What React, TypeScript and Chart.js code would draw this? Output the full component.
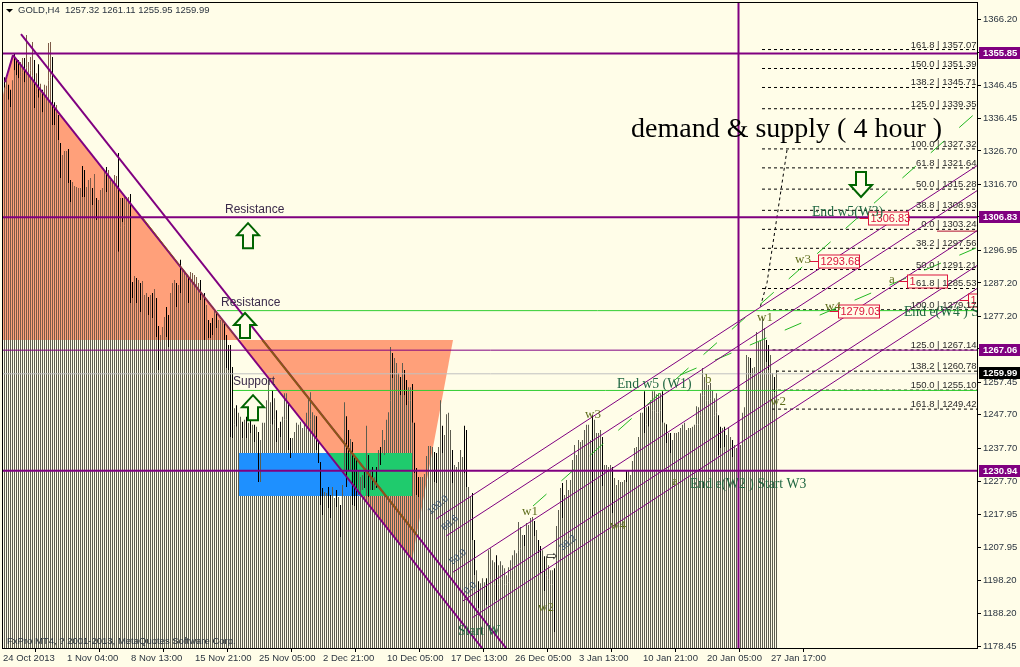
import React, { useEffect, useRef } from "react";
import { Chart, registerables } from "chart.js";

Chart.register(...registerables);

const highs = [
1348.5,1347.6,1346.2,1344.7,1347.6,1355.7,1353.6,1353.6,1353,1354.2,
1354.2,1361.1,1353,1354.5,1359,1353.6,1349.7,1352.4,1346.5,1344.7,
1346.2,1345.9,1358.7,1359,1354.5,1341,1340.2,1337.2,1328.8,1325.2,
1326.4,1326.4,1327,1317.7,1317.1,1315.9,1315.6,1315.3,1315.3,1321.9,
1320.7,1315.6,1317.7,1318.3,1315.3,1319.5,1312.3,1311.7,1314.7,1315.3,
1320.1,1321.6,1320.7,1317.7,1317.7,1319.2,1318.9,1325.8,1312.3,1312.3,
1313.2,1312.6,1312.6,1313.5,1287.2,1289,1288.4,1287.8,1286.9,1287.5,
1283.3,1283.9,1282.7,1283.3,1283.9,1285.1,1282.4,1274,1271.3,1273.7,
1276.7,1279.7,1277.3,1283.9,1286.9,1287.8,1286.9,1286.3,1293.8,1291.4,
1289.9,1289.3,1288.7,1290.2,1289.9,1289.3,1288.7,1286.9,1287.8,1283.3,
1283.9,1280.3,1275.8,1274.9,1276.4,1278.8,1278.2,1275.8,1275.8,1275.8,
1274.9,1271.3,1268.3,1268.3,1261.7,1249.4,1250.3,1248,1246.8,1245.3,
1245.9,1246.8,1245,1248.2,1244.4,1244.4,1243.8,1242.3,1239.9,1245,
1245,1251.8,1257.8,1251.2,1254.8,1252.4,1248.8,1243.5,1245.3,1246.8,
1253.9,1253.9,1251.2,1240.5,1240.5,1242.3,1245,1244.4,1245.3,1243.5,
1245,1248,1252.7,1254.2,1248.2,1247.3,1247,1239.9,1233.3,1225.5,
1224.3,1224,1225.8,1223.4,1225.8,1222.5,1224.9,1222.8,1220.4,1226.4,
1251.2,1247,1242.9,1240.2,1239.3,1235.4,1234.5,1230.9,1228.8,1229.4,
1230.3,1244.1,1235.4,1230.9,1231.8,1228.8,1231.8,1236.9,1237.8,1242.9,
1239.9,1245.9,1248.2,1267.7,1265.9,1264.4,1262.9,1259.9,1258.7,1262.9,
1260.8,1257.8,1255.7,1255.7,1256.6,1245,1231.5,1228.8,1228.8,1228.8,
1229.7,1235.1,1238.1,1238.1,1237.8,1236.3,1236,1237.8,1251.8,1244.1,
1241.4,1247.6,1248,1242.9,1236.9,1232.4,1231.8,1233.3,1236.9,1234.8,
1244.1,1242.9,1225.8,1222.8,1224,1209.9,1200.9,1197.6,1197,1198.5,
1197.3,1198.5,1206.9,1207.5,1203.9,1203.3,1205.4,1202.4,1203.6,1202.4,
1201.5,1199.4,1201.8,1203.9,1205.4,1206.9,1206,1215.3,1213.8,1211.4,
1211.4,1215,1214.4,1216.5,1216.8,1215.6,1212.9,1209.9,1208.1,1206.9,
1205.1,1205.1,1202.4,1200.9,1200.9,1201.5,1214.1,1218.9,1225.5,1227,
1223.4,1227.9,1224.9,1227.9,1233.9,1238.4,1235.4,1239.9,1239.3,1239.9,
1242.9,1244.4,1244.4,1239.9,1247.3,1245.9,1242,1242,1242.9,1240.8,
1232.4,1232.4,1231.8,1232.4,1231.8,1228.5,1226.4,1227.9,1227.3,1227.3,
1227.9,1230.9,1230.9,1229.4,1233.6,1237.5,1237.8,1240.8,1248,1248,
1254.5,1249.7,1250,1251.8,1254.5,1254.5,1253.6,1253.9,1253.9,1254.5,
1245,1244.6,1242,1242,1239.9,1242,1242,1242.3,1243.5,1244.4,
1245,1242.9,1243.5,1243.5,1243.8,1244.4,1250,1249.7,1253.9,1261.4,
1258.7,1256.9,1256.3,1256.9,1254.8,1252.4,1253.9,1247.3,1243.8,1243.5,
1243.8,1241.4,1243.5,1240.8,1239.9,1238.4,1237.5,1236.9,1238.4,1248,
1249.7,1265.3,1264.7,1264.4,1261.4,1261.7,1272.2,1269.2,1269.8,1276.7,
1273.4,1269.8,1268.3,1265.3,1259.9,1258.7,1260.8];

const lows = [
1345.3,1344.7,1341.7,1339.6,1336.3,1350.6,1349.1,1348.2,1348.8,1350,
1347,1351.5,1350,1350.6,1349.1,1339.3,1343.2,1342.3,1343.8,1338,
1339.6,1338.7,1347.6,1348.5,1334.2,1334.2,1335.1,1329.7,1318.3,1322.2,
1320.1,1322.2,1316.8,1311.1,1305.1,1310.2,1310.2,1310.8,1310.2,1312.6,
1312.6,1312.6,1312.9,1313.2,1310.2,1308.7,1305.7,1308.7,1310.2,1309.3,
1314.7,1314.1,1314.1,1315.9,1314.1,1314.7,1313.2,1296.2,1303.6,1305.1,
1304.2,1307.2,1309.3,1280.9,1282.4,1283.3,1280.9,1281.8,1278.2,1281.8,
1280.3,1278.8,1277.3,1278.2,1276.4,1280.3,1270.7,1260.8,1269.2,1269.8,
1269.8,1270.7,1267.7,1275.8,1277.3,1280.3,1279.7,1281.8,1283.9,1284.8,
1283.3,1283.3,1280.9,1284.8,1284.8,1283.3,1283.3,1281.8,1281.8,1280.3,
1269.8,1274.3,1270.4,1270.4,1271.3,1273.4,1273.4,1271.3,1271.3,1270.4,
1269.8,1261.4,1260.8,1240.8,1240.5,1244.4,1243.8,1242.9,1240.5,1240.5,
1241.4,1240.5,1240.5,1242,1241.4,1239.3,1240.8,1227.3,1227.3,1239.9,
1240.8,1242.9,1242,1244.4,1244.4,1245.9,1239.3,1239.9,1240.8,1242.9,
1245.9,1245.9,1236.9,1234.5,1236.9,1238.4,1239.9,1240.5,1241.4,1240.5,
1241.4,1242.9,1243.8,1245.9,1242.3,1241.4,1236.9,1233,1220.4,1217.4,
1220.4,1220.4,1219.5,1216.5,1221.9,1218.9,1219.8,1218.9,1210.8,1220.4,
1230.9,1225.8,1230.9,1230.9,1220.4,1220.1,1218.9,1223.4,1223.4,1224.9,
1225.5,1212,1222.8,1224.9,1224.9,1224.9,1225.5,1230.9,1232.4,1236.9,
1235.4,1238.4,1241.4,1251.8,1258.4,1257.8,1257.8,1254.8,1253.3,1256.3,
1253.3,1250.3,1251.8,1251.8,1245,1230,1223.4,1222.8,1224.9,1225.5,
1225.5,1227.9,1230.9,1232.4,1232.4,1227.3,1227,1230.9,1239.9,1236,
1235.4,1239.9,1239.9,1236.9,1227,1227.9,1227.9,1228.5,1230.9,1230.3,
1230,1225.8,1220.4,1217.4,1209.9,1199.4,1195,1189.6,1192,1193.5,
1192,1190.5,1195,1198,1195,1196.5,1192,1196.5,1198.5,1198,
1196.5,1196.5,1197.3,1198,1200.9,1202.4,1202.4,1206.9,1207.5,1208.4,
1208.1,1208.4,1209.9,1211.4,1212.3,1211.1,1208.4,1206,1200,1200.9,
1194.6,1199.4,1198,1196.5,1196.5,1182.4,1203.9,1212.9,1215.9,1216.5,
1217.4,1220.4,1218.9,1221.9,1224.9,1229.4,1227.9,1230.9,1232.4,1232.4,
1235.4,1236.9,1235.4,1235.4,1217.1,1238.4,1236.9,1235.4,1230.9,1226.1,
1227.9,1227.9,1226.4,1227.9,1218,1223.4,1220.4,1223.4,1223.4,1224.9,
1224.9,1227.3,1226.4,1224.9,1229.4,1232.4,1233.9,1235.4,1239.9,1241.4,
1242,1244.4,1243.8,1245.9,1248.8,1248.8,1248,1248,1248.8,1245,
1239.9,1239,1236.9,1236,1235.4,1238.4,1238.4,1237.8,1239.9,1240.5,
1239.9,1239,1239.9,1239.9,1240.5,1240.8,1244.4,1244.4,1247.3,1253.3,
1253.3,1251.8,1251.8,1252.4,1250.3,1247.3,1248,1235.4,1237.5,1238.4,
1237.8,1236.9,1238.4,1236.9,1234.8,1233.9,1232.4,1221.9,1230.9,1239.9,
1242.9,1256.3,1256.3,1259.3,1256.3,1256.3,1262.3,1261.4,1262.3,1268.3,
1266.8,1263.2,1260.8,1259.3,1254.2,1254.2,1255.4];

const blackWickBars = [0,2,3,5,6,7,10,15,17,19,24,25,27,28,32,33,39,40,44,46,51,57,59,63,64,66,68,72,74,76,77,81,82,86,88,92,98,100,102,103,104,106,110,111,112,113,114,116,119,121,123,125,127,134,136,138,142,143,156,157,158,159,162,163,166,168,171,172,174,175,176,180,182,184,186,188,194,198,200,201,204,205,206,207,215,216,219,224,230,231,234,235,237,241,246,260,265,267,268,270,275,279,294,299,304,311,320,322,329,331,333,357,358,360,364,367,373,381,382,385];

const xTickPositions = [-0.75,31.25,63.25,95.25,127.25,159.25,191.25,223.25,255.25,287.25,319.25,351.25,383.25];
const xTickLabels = ["24 Oct 2013","1 Nov 04:00","8 Nov 13:00","15 Nov 21:00","25 Nov 05:00","2 Dec 21:00","10 Dec 05:00","17 Dec 13:00","26 Dec 05:00","3 Jan 13:00","10 Jan 21:00","20 Jan 05:00","27 Jan 17:00"];
const yTicks = [1366.2,1356.2,1346.45,1336.45,1326.7,1316.7,1306.95,1296.95,1287.2,1277.2,1267.45,1257.45,1247.7,1237.7,1227.7,1217.95,1207.95,1198.2,1188.2,1178.45];

const priceBoxes = [
  { v: 1355.85, bg: "#800080", text: "1355.85" },
  { v: 1306.83, bg: "#800080", text: "1306.83" },
  { v: 1267.06, bg: "#800080", text: "1267.06" },
  { v: 1259.99, bg: "#000000", text: "1259.99" },
  { v: 1230.94, bg: "#800080", text: "1230.94" },
];

const thickLevels = [1355.85, 1306.83, 1230.94];
const thinLevels = [1267.06];
const greenLevels = [
  { v: 1306.5, from: 108 },
  { v: 1278.6, from: 106.25 },
  { v: 1254.7, from: 114.25 },
];
const fibRatios = ["161.8","150.0","138.2","125.0","100.0","61.8","50.0","38.8","0.0","38.2","50.0","61.8","100.0","125.0","138.2","150.0","161.8"];
const fibPrices = [1357.07,1351.39,1345.71,1339.35,1327.32,1321.64,1315.28,1308.93,1303.24,1297.56,1291.21,1285.53,1279.17,1267.14,1260.78,1255.1,1249.42];
const fibStarts = [378.75,378.75,378.75,378.75,378.75,378.75,378.75,378.75,378.75,378.75,378.75,378.75,381.25,384,385.75,383.75,383.75];

const lineA = [[8.25,1361.4],[250.75,1177.6]];
const lineB = [[4.25,1355.1],[238.75,1177.6]];
const ramp = [[0.25,1347],[4.25,1355.1]];
const brownA = [[129,1269.8],[206.25,1211.4]];
const brownB = [[69.25,1306.3],[116.75,1269.8]];
const orange1 = [[-0.75,1343.2],[4.25,1355.1],[116.75,1269.8],[-0.75,1269.8]];
const orange2 = [[116.75,1269.8],[224.25,1269.8],[203.75,1203.9]];
const bluePoly = [[117.25,1236],[161.55,1236],[178.25,1223.1],[117.25,1223.1]];
const greenPoly = [[161.55,1236],[203.75,1236],[203.75,1223.1],[178.25,1223.1]];
const channels = [
  [[215.75,1216.2],[486.75,1322.2]],
  [[220.75,1211.1],[486.75,1314.7]],
  [[224.25,1200.3],[486.75,1302.7]],
  [[229.25,1191.7],[486.75,1292.3]],
  [[233.75,1186.6],[486.75,1285.4]],
];
const greenDashA = [[264.25,1220.1],[486.75,1338.4]];
const greenDashB = [[337.75,1259.3],[486.75,1297.6]];
const dottedCurve = [[391.25,1326.7],[386.75,1308.7],[384.25,1298.8],[381.25,1286.9],[377.75,1279.4]];
const redStub = [[466.25,1302.4],[486.75,1302.4]];

const waveColor = "#5f6e1c";
const endColor = "#1f6640";
const labels = [
  { t: "Resistance", x: 110.25, y: 1309.3, f: "12px 'Liberation Sans'", c: "#3a2a4a" },
  { t: "Resistance", x: 108.25, y: 1281.5, f: "12px 'Liberation Sans'", c: "#3a2a4a" },
  { t: "Support", x: 114.25, y: 1257.8, f: "12px 'Liberation Sans'", c: "#3a2a4a" },
  { t: "End w5 (W1)", x: 306.25, y: 1256.9, f: "13.7px 'Liberation Serif'", c: endColor },
  { t: "End e(W2 ) Start W3", x: 342.75, y: 1227, f: "13.7px 'Liberation Serif'", c: endColor },
  { t: "End w5(W3)", x: 403.75, y: 1308.4, f: "13.7px 'Liberation Serif'", c: endColor },
  { t: "End e(W4 ) Start W5", x: 449.75, y: 1278.5, f: "13.7px 'Liberation Serif'", c: endColor },
  { t: "w1", x: 258.75, y: 1218.9, f: "13px 'Liberation Serif'", c: waveColor },
  { t: "w3", x: 290.25, y: 1248, f: "13px 'Liberation Serif'", c: waveColor },
  { t: "w2", x: 266.75, y: 1190.2, f: "13px 'Liberation Serif'", c: waveColor },
  { t: "w4", x: 302.75, y: 1214.7, f: "13px 'Liberation Serif'", c: waveColor },
  { t: "w3", x: 395.25, y: 1294.4, f: "13px 'Liberation Serif'", c: waveColor },
  { t: "w4", x: 410.25, y: 1280.3, f: "13px 'Liberation Serif'", c: waveColor },
  { t: "w1", x: 376.25, y: 1277, f: "13px 'Liberation Serif'", c: waveColor },
  { t: "w2", x: 382.75, y: 1251.8, f: "13px 'Liberation Serif'", c: waveColor },
  { t: "a", x: 333.75, y: 1227.9, f: "13px 'Liberation Serif'", c: waveColor },
  { t: "b", x: 350.25, y: 1258.4, f: "13px 'Liberation Serif'", c: waveColor },
  { t: "a", x: 442.25, y: 1288.4, f: "13px 'Liberation Serif'", c: waveColor },
  { t: "Start W", x: 226.75, y: 1183, f: "13.7px 'Liberation Serif'", c: endColor },
];
const tiltedLabels = [
  { t: "100.0", x: 216.75, y: 1220.4 },
  { t: "88.6", x: 222.75, y: 1215 },
  { t: "50.0", x: 226.75, y: 1204.8 },
  { t: "0.0", x: 232.75, y: 1195.5 },
  { t: "38.2", x: 281.75, y: 1209 },
];
const boxed = [
  { t: "1306.83", x: 431.75, y: 1306.3, w: 40 },
  { t: "1293.68", x: 406.75, y: 1293.45, w: 41 },
  { t: "1279.03", x: 416.75, y: 1278.6, w: 41 },
  { t: "1", x: 451.25, y: 1287.5, w: 40 },
  { t: "1", x: 481.75, y: 1281.8, w: 40 },
];
const arrows = [
  { x: 121.75, y: 1300.9, dir: "up" },
  { x: 120.25, y: 1274, dir: "up" },
  { x: 124.25, y: 1249.4, dir: "up" },
  { x: 428.25, y: 1316.5, dir: "down" },
];

// The marks above were read against the picture one pixel off the axis ticks.
const readOffset = 0.3;
const cal = (v: number) => v + readOffset;

const pts = (a: number[][], calibrate: boolean) =>
  a.map(([x, y]) => ({ x, y: calibrate ? cal(y) : y }));
const line = (a: number[][], color: string, width: number, dash: number[] = [], order = 10, calibrate = true) => ({
  type: "line",
  data: pts(a, calibrate),
  borderColor: color,
  borderWidth: width,
  borderDash: dash,
  pointRadius: 0,
  fill: false,
  tension: 0,
  order,
});
const poly = (a: number[][], color: string, order: number) => ({
  type: "line",
  data: pts([...a, a[0]], true),
  borderColor: color,
  borderWidth: 0,
  backgroundColor: color,
  pointRadius: 0,
  fill: "shape",
  tension: 0,
  order,
});

const AX_MIN = -0.75;
const AX_MAX = 486.75;
const Y_MIN = 1177.6;
const Y_MAX = 1371.0;
const ORANGE_BASE = 1269.8;
const STRIPE = "#5d5d50";
const STRIPE_ON_ORANGE = "#7d5a48";
const smallFont = "9.5px 'Liberation Sans'";

const overlay = {
  id: "overlay",
  beforeDraw(chart: any) {
    const c = chart.ctx;
    c.save();
    c.fillStyle = "#FFFDE8";
    c.fillRect(0, 0, chart.width, chart.height);
    c.restore();
  },
  afterDatasetsDraw(chart: any) {
    const c = chart.ctx;
    const sx = chart.scales.x;
    const sy = chart.scales.y;
    const a = chart.chartArea;
    c.save();
    c.beginPath();
    c.rect(a.left, a.top, a.right - a.left, a.bottom - a.top);
    c.clip();

    // arrows
    for (const ar of arrows) {
      const x = sx.getPixelForValue(ar.x);
      const y = sy.getPixelForValue(cal(ar.y));
      const s = ar.dir === "up" ? 1 : -1;
      c.beginPath();
      c.moveTo(x, y - 13 * s);
      c.lineTo(x + 11, y - 1 * s);
      c.lineTo(x + 5, y - 1 * s);
      c.lineTo(x + 5, y + 12 * s);
      c.lineTo(x - 5, y + 12 * s);
      c.lineTo(x - 5, y - 1 * s);
      c.lineTo(x - 11, y - 1 * s);
      c.closePath();
      c.fillStyle = "#FFFDE8";
      c.fill();
      c.strokeStyle = "#006400";
      c.lineWidth = 2;
      c.stroke();
    }

    // boxed price tags
    c.textBaseline = "middle";
    c.textAlign = "left";
    for (const b of boxed) {
      const x = Math.round(sx.getPixelForValue(b.x)) + 0.5;
      const y = Math.round(sy.getPixelForValue(cal(b.y))) + 0.5;
      c.strokeStyle = "#DC143C";
      c.lineWidth = 1;
      c.fillStyle = "#FFFDE8";
      c.fillRect(x, y - 6.5, b.w, 13);
      c.strokeRect(x, y - 6.5, b.w, 13);
      c.beginPath();
      c.moveTo(x - 9, y);
      c.lineTo(x, y);
      c.stroke();
      c.fillStyle = "#DC143C";
      c.font = "11px 'Liberation Sans'";
      c.fillText(b.t, x + 2, y + 0.5);
    }

    // labels
    for (const l of labels) {
      c.font = l.f;
      c.fillStyle = l.c;
      c.fillText(l.t, sx.getPixelForValue(l.x), sy.getPixelForValue(cal(l.y)) + 1.5);
    }
    c.font = "28px 'Liberation Serif'";
    c.fillStyle = "#000";
    c.fillText("demand & supply ( 4 hour )", sx.getPixelForValue(313.25), sy.getPixelForValue(cal(1333.3)) + 2);

    // tilted fibonacci labels
    c.font = smallFont;
    for (const l of tiltedLabels) {
      c.save();
      c.translate(sx.getPixelForValue(l.x), sy.getPixelForValue(cal(l.y)));
      c.rotate((-40 * Math.PI) / 180);
      c.textAlign = "center";
      c.fillStyle = "#35506e";
      c.fillText(l.t, 0, 0);
      c.restore();
    }
    c.font = "13px 'DejaVu Sans'";
    c.fillStyle = "#000";
    c.textAlign = "center";
    c.fillText("\u21E8", sx.getPixelForValue(273.75), sy.getPixelForValue(cal(1205.1)));

    // fibonacci text
    c.font = smallFont;
    c.textAlign = "right";
    c.textBaseline = "alphabetic";
    c.fillStyle = "#2b2b2b";
    fibPrices.forEach((p, i) => {
      c.fillText(`${fibRatios[i]} | ${p.toFixed(2)}`, a.right - 1.5, sy.getPixelForValue(p) - 2);
    });
    c.restore();

    // frame
    c.save();
    c.strokeStyle = "#000";
    c.lineWidth = 1;
    c.strokeRect(2.5, 2.5, a.right - 2.5 - 0.5, a.bottom - 2.5 - 0.5);
    c.restore();

    // header
    c.save();
    c.fillStyle = "#000";
    c.beginPath();
    c.moveTo(6, 9);
    c.lineTo(13, 9);
    c.lineTo(9.5, 12.5);
    c.closePath();
    c.fill();
    c.font = smallFont;
    c.textBaseline = "middle";
    c.textAlign = "left";
    c.fillStyle = "#2b3540";
    c.fillText("GOLD,H4", 18, 10.5);
    c.fillText("1257.32 1261.11 1255.95 1259.99", 65, 10.5);
    c.fillText("FxPro MT4, ? 2001-2013, MetaQuotes Software Corp.", 7, 641.5);
    c.restore();
  },
  afterDraw(chart: any) {
    const c = chart.ctx;
    const sy = chart.scales.y;
    const a = chart.chartArea;
    c.save();
    c.font = "bold 9.5px 'Liberation Sans'";
    c.textBaseline = "middle";
    c.textAlign = "left";
    for (const b of priceBoxes) {
      const y = Math.round(sy.getPixelForValue(b.v) - 0.3);
      c.fillStyle = b.bg;
      c.fillRect(a.right + 1, y - 6, 41, 12);
      c.fillStyle = "#fff";
      c.fillText(b.text, a.right + 5, y + 0.5);
    }
    c.restore();
  },
};

export default function App() {
  const ref = useRef<HTMLCanvasElement>(null);
  useEffect(() => {
    document.body.style.margin = "0";
    const barIdx = highs.map((_, i) => i);
    const isOnOrange = (i: number) => i <= 112;
    const datasets: any[] = [
      poly(orange1, "#FFA07A", 100),
      poly(orange2, "#FFA07A", 100),
      {
        type: "bar",
        data: barIdx.map((i) => ({ x: i, y: [Y_MIN, Math.min(cal(lows[i]), cal(ORANGE_BASE))] })),
        backgroundColor: STRIPE,
        barThickness: 1,
        grouped: false,
        inflateAmount: 0,
        order: 90,
      },
      {
        type: "bar",
        data: barIdx.filter(isOnOrange).map((i) => ({ x: i, y: [cal(ORANGE_BASE), cal(Math.max(lows[i], ORANGE_BASE))] })),
        backgroundColor: STRIPE_ON_ORANGE,
        barThickness: 1,
        grouped: false,
        inflateAmount: 0,
        order: 90,
      },
      poly(bluePoly, "#1E90FF", 80),
      poly(greenPoly, "#1FCB6D", 80),
      {
        type: "bar",
        data: barIdx.map((i) => ({ x: i, y: [cal(lows[i]), cal(highs[i])] })),
        backgroundColor: barIdx.map((i) =>
          blackWickBars.includes(i) ? "#000000" : isOnOrange(i) ? STRIPE_ON_ORANGE : STRIPE
        ),
        barThickness: 1,
        grouped: false,
        inflateAmount: 0,
        order: 70,
      },
      line(ramp, "#800080", 2),
      line(lineB, "#800080", 2),
      line(lineA, "#800080", 2),
      line(brownA, "#8B5A14", 2, [], 9),
      line(brownB, "#8B5A14", 1, [], 9),
      ...channels.map((c) => line(c, "#800080", 1)),
      line(greenDashA, "#22B822", 1, [18, 20]),
      line(greenDashB, "#22B822", 1, [18, 20]),
      line(dottedCurve, "#000", 1, [3, 3]),
      line(redStub, "#B01030", 1),
      ...fibPrices.map((p, i) => line([[fibStarts[i], p], [AX_MAX, p]], "#000", 1, [3, 3], 11, false)),
      line([[AX_MIN, 1259.99], [AX_MAX, 1259.99]], "#C0C0C0", 1, [], 10, false),
      ...greenLevels.map((g) => line([[g.from, g.v], [AX_MAX, g.v]], "#32CD32", 1)),
      ...thinLevels.map((v) => line([[AX_MIN, v], [AX_MAX, v]], "#800080", 1, [], 8, false)),
      ...thickLevels.map((v) => line([[AX_MIN, v], [AX_MAX, v]], "#800080", 2, [], 8, false)),
      line([[367, Y_MIN], [367, Y_MAX]], "#800080", 2, [], 8, false),
    ];
    const chart = new Chart(ref.current as HTMLCanvasElement, {
      type: "bar",
      data: { datasets },
      plugins: [overlay],
      options: {
        responsive: false,
        animation: false,
        devicePixelRatio: 1,
        layout: { autoPadding: false, padding: { left: 3, top: 3, right: 0, bottom: 0 } },
        plugins: { legend: { display: false }, tooltip: { enabled: false }, title: { display: false } },
        scales: {
          x: {
            type: "linear",
            min: AX_MIN,
            max: AX_MAX,
            offset: false,
            afterBuildTicks: (s: any) => {
              s.ticks = xTickPositions.map((value) => ({ value }));
            },
            afterFit: (s: any) => {
              s.height = 18;
              s.paddingLeft = 0;
              s.paddingRight = 0;
              s.paddingTop = 0;
              s.paddingBottom = 0;
            },
            border: { display: false },
            grid: { drawOnChartArea: false, drawTicks: true, tickLength: 3, color: "#000" },
            ticks: {
              autoSkip: false,
              maxRotation: 0,
              minRotation: 0,
              align: "start",
              padding: 1,
              color: "#2b3540",
              font: { family: "'Liberation Sans'", size: 9.5 },
              callback: (_: any, i: number) => xTickLabels[i],
            },
          },
          y: {
            type: "linear",
            position: "right",
            min: Y_MIN,
            max: Y_MAX,
            afterBuildTicks: (s: any) => {
              s.ticks = yTicks.map((value) => ({ value }));
            },
            afterFit: (s: any) => {
              s.width = 42;
              s.paddingLeft = 0;
              s.paddingRight = 0;
              s.paddingTop = 0;
              s.paddingBottom = 0;
            },
            border: { display: false },
            grid: { drawOnChartArea: false, drawTicks: true, tickLength: 3, color: "#000" },
            ticks: {
              autoSkip: false,
              padding: 2,
              color: "#2b3540",
              font: { family: "'Liberation Sans'", size: 9.5 },
              callback: (v: any) => Number(v).toFixed(2),
            },
          },
        },
      } as any,
    } as any);
    return () => chart.destroy();
  }, []);
  return <canvas ref={ref} width={1020} height={667} style={{ display: "block", width: 1020, height: 667 }} />;
}
